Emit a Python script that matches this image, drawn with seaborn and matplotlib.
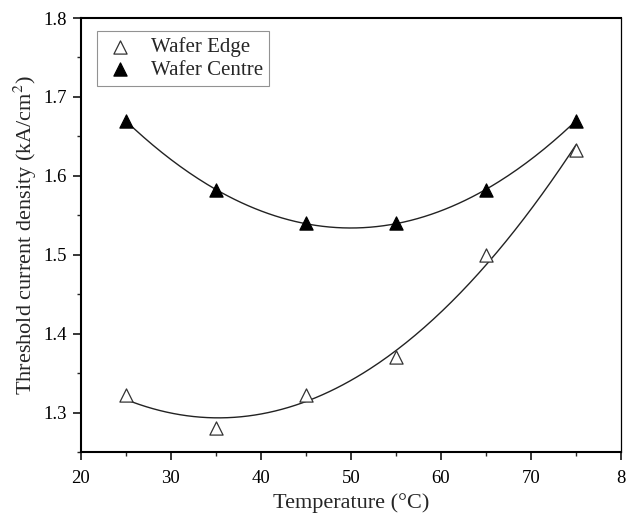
import numpy as np
import matplotlib.pyplot as plt
import seaborn as sns
from matplotlib.ticker import MultipleLocator

# Data
temperature = [25, 35, 45, 55, 65, 75]
edge_jth = [1.323, 1.280, 1.323, 1.370, 1.500, 1.633]
centre_jth = [1.670, 1.582, 1.540, 1.540, 1.582, 1.670]

sns.set_style("ticks")
plt.rcParams["font.family"] = ["Liberation Serif", "DejaVu Serif"]
plt.rcParams["mathtext.fontset"] = "stix"

fig = plt.figure(figsize=(6.31, 5.15), dpi=100)
ax = fig.add_axes([0.128, 0.122, 0.856, 0.843])

# 2nd order polynomial fits through each series
t_fit = np.linspace(25, 75, 200)
for vals in (edge_jth, centre_jth):
    coef = np.polyfit(temperature, vals, 2)
    sns.lineplot(x=t_fit, y=np.polyval(coef, t_fit), ax=ax, color="#222222",
                 linewidth=1.0, legend=False)

sns.scatterplot(x=temperature, y=edge_jth, ax=ax, marker="^", s=90,
                facecolor="white", edgecolor="#333333", linewidth=0.9,
                label="Wafer Edge", zorder=3)
sns.scatterplot(x=temperature, y=centre_jth, ax=ax, marker="^", s=90,
                color="black", edgecolor="black", linewidth=0.9,
                label="Wafer Centre", zorder=3)

ax.set_xlim(20, 80)
ax.set_ylim(1.25, 1.8)
ax.xaxis.set_minor_locator(MultipleLocator(5))
ax.yaxis.set_minor_locator(MultipleLocator(0.05))
ax.set_xticks([20, 30, 40, 50, 60, 70, 80])
ax.set_xticklabels(["20", "30", "40", "50", "60", "70", "8"])
ax.set_yticks([1.3, 1.4, 1.5, 1.6, 1.7, 1.8])
ax.set_yticklabels(["1.3", "1.4", "1.5", "1.6", "1.7", "1.8"])
ax.tick_params(which="major", direction="out", length=6, width=1.1,
               labelsize=13.5, colors="black", pad=4)
ax.tick_params(axis="x", which="major", pad=7)
ax.tick_params(which="minor", direction="out", length=3, width=1.0)

for side in ["left", "bottom", "top"]:
    ax.spines[side].set_linewidth(1.5)
ax.spines["right"].set_linewidth(0.9)
for s in ax.spines.values():
    s.set_color("black")

ax.set_xlabel("Temperature (°C)", fontsize=16, labelpad=4)
ax.set_ylabel("Threshold current density (kA/cm$^2$)", fontsize=16, labelpad=3)

leg = ax.legend(loc="upper left", bbox_to_anchor=(0.01, 0.994), fontsize=15,
                frameon=True, fancybox=False, borderpad=0.3, handletextpad=0.7,
                labelspacing=0.15, handlelength=1.6)
leg.get_frame().set_edgecolor("#777777")
leg.get_frame().set_linewidth(0.8)

plt.savefig("out.png", dpi=100)
plt.close()
